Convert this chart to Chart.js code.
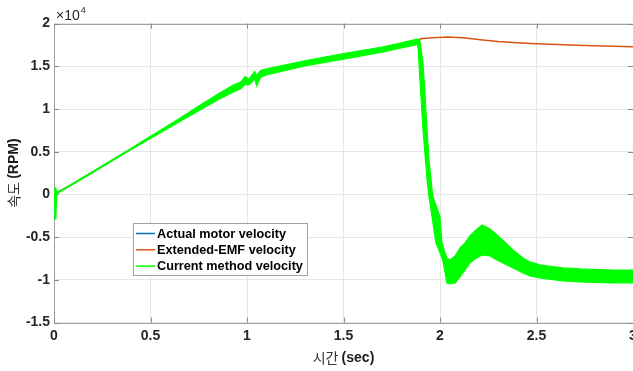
<!DOCTYPE html>
<html><head><meta charset="utf-8">
<script src="https://cdn.jsdelivr.net/npm/chart.js@4/dist/chart.umd.min.js"></script>
<style>html,body{margin:0;padding:0;background:#fff;overflow:hidden}</style>
</head><body>
<canvas id="c" width="633" height="371"></canvas>
<script>
// ---- data ----
const xTicks = [0, 0.5, 1, 1.5, 2, 2.5, 3];
const xTickLabels = ['0', '0.5', '1', '1.5', '2', '2.5', '3'];
const yTicks = [-15000, -10000, -5000, 0, 5000, 10000, 15000, 20000];
const yTickLabels = ['-1.5', '-1', '-0.5', '0', '0.5', '1', '1.5', '2'];
const seriesLabels = ['Actual motor velocity', 'Extended-EMF velocity', 'Current method velocity'];
const xTitle = ['시간 ', '(sec)'];
const yTitle = ['속도 ', '(RPM)'];
const exponentText = ['×10', '4'];

const timeBlue = [0, 0.08, 0.39, 0.75, 1.0, 1.1, 1.5, 1.886, 1.912, 1.943, 1.979, 2.016, 2.052, 2.1, 2.22, 2.33, 2.5, 2.7, 3.0];
const blueVel  = [0, 1000, 5200, 10050, 13200, 14350, 16200, 17900, 11500, 1900, -3400, -7000, -9000, -8000, -5400, -6500, -9000, -9400, -9600];

const timeOrange = [0, 0.08, 0.39, 0.75, 1.0, 1.1, 1.5, 1.886, 1.9, 1.96, 2.04, 2.12, 2.21, 2.3, 2.4, 2.5, 2.75, 3.0];
const orangeVel  = [0, 1000, 5200, 10050, 13200, 14350, 16200, 17900, 18220, 18350, 18430, 18330, 18100, 17900, 17750, 17650, 17450, 17300];

const timeGreen = [0, 0.004, 0.009, 0.014, 0.03, 0.08, 0.2, 0.39, 0.5, 0.65, 0.75, 0.85, 0.93, 0.97, 0.99, 1.01, 1.04, 1.05, 1.07, 1.1, 1.3, 1.5, 1.7, 1.8,
  1.886, 1.891, 1.896, 1.912, 1.933, 1.943, 1.959, 1.964, 1.979, 2.0, 2.01, 2.016, 2.036,
  2.052, 2.078, 2.104, 2.130, 2.155, 2.181, 2.218, 2.259, 2.295, 2.347, 2.378, 2.430, 2.466, 2.518, 2.554, 2.637, 2.725, 2.896, 3.0];
const greenUpper = [0, 800, 700, 300, 400, 1050, 2650, 5250, 6800, 8900, 10350, 11750, 12800, 13200, 13800, 13500, 14400, 13900, 14500, 14700, 15650, 16500, 17250, 17750,
  18200, 18100, 18000, 15420, 7570, 4060, 540, -280, -1220, -2620, -5680, -6140, -7430,
  -7660, -7200, -6260, -5670, -4850, -4260, -3560, -4030, -4730, -5790, -6490, -7430, -7900, -8250, -8370, -8600, -8720, -8840, -8840];
const greenLower = [0, -2900, -2800, 0, 300, 950, 2550, 5150, 6550, 8500, 9800, 11100, 12000, 12400, 12900, 12800, 13500, 12700, 13700, 14000, 15050, 15850, 16650, 17150,
  17550, 15420, 13430, 7570, 1710, -280, -2620, -3440, -5680, -6840, -7430, -7900, -10360,
  -10480, -10360, -9650, -8840, -8020, -7550, -7080, -7200, -7660, -8250, -8600, -9190, -9540, -9770, -9890, -10120, -10240, -10360, -10360];

// ---- styles ----
const FONT = "'Liberation Sans', Arial, 'Noto Sans CJK KR', sans-serif";
const KFONT = "'Noto Sans CJK KR', 'Liberation Sans', sans-serif";
const BLUE = '#0072BD', ORANGE = '#D95319', GREEN = '#00FF00';
const pts = (xs, ys) => xs.map((x, i) => ({x, y: ys[i]}));

const framePlugin = {
  id: 'frame',
  beforeDatasetsDraw(chart) {
    const {ctx, chartArea: a, scales: {x, y}} = chart;
    ctx.save();
    ctx.strokeStyle = '#a0a0a0';
    ctx.lineWidth = 1;
    ctx.beginPath();
    ctx.rect(Math.round(a.left) + 0.5, Math.round(a.top) + 0.5, a.right - a.left, a.bottom - a.top);
    ctx.stroke();
    ctx.strokeStyle = '#8a8a8a';
    ctx.beginPath();
    const L = 5;
    xTicks.forEach(v => {
      const px = Math.round(x.getPixelForValue(v)) + 0.5;
      ctx.moveTo(px, a.top); ctx.lineTo(px, a.top + L);
      ctx.moveTo(px, a.bottom); ctx.lineTo(px, a.bottom - L);
    });
    yTicks.forEach(v => {
      const py = Math.round(y.getPixelForValue(v)) + 0.5;
      ctx.moveTo(a.left, py); ctx.lineTo(a.left + L, py);
      ctx.moveTo(a.right, py); ctx.lineTo(a.right - L, py);
    });
    ctx.stroke();
    ctx.restore();
  }
};

const legendPlugin = {
  id: 'boxLegend',
  afterDraw(chart) {
    const {ctx} = chart;
    const bx = 133.5, by = 223.5, bw = 174, bh = 52;
    ctx.save();
    ctx.fillStyle = '#fff';
    ctx.fillRect(bx, by, bw, bh);
    ctx.strokeStyle = '#a0a0a0';
    ctx.lineWidth = 1;
    ctx.strokeRect(bx, by, bw, bh);
    const items = chart.data.datasets.filter(d => seriesLabels.includes(d.label))
      .sort((a, b) => seriesLabels.indexOf(a.label) - seriesLabels.indexOf(b.label));
    ctx.font = 'bold 12.7px ' + FONT;
    ctx.textBaseline = 'middle';
    ctx.textAlign = 'left';
    items.forEach((d, i) => {
      const yy = 233.5 + i * 16.3;
      ctx.strokeStyle = d.legendColor || d.borderColor;
      ctx.lineWidth = 1.5;
      ctx.beginPath(); ctx.moveTo(136, yy); ctx.lineTo(155, yy); ctx.stroke();
      ctx.fillStyle = '#000';
      ctx.fillText(d.label, 157, yy + 0.5);
    });
    ctx.restore();
  }
};

function mixedWidth(ctx, parts) {
  ctx.font = 'normal 14px ' + KFONT; const w1 = ctx.measureText(parts[0]).width;
  ctx.font = 'bold 14px ' + FONT; const w2 = ctx.measureText(parts[1]).width;
  return [w1, w2];
}
const titlePlugin = {
  id: 'axisTitles',
  afterDraw(chart) {
    const {ctx, chartArea: a} = chart;
    ctx.save();
    ctx.textBaseline = 'middle';
    ctx.textAlign = 'left';
    let [w1, w2] = mixedWidth(ctx, xTitle);
    let cx = (a.left + a.right) / 2 - (w1 + w2) / 2, cy = 358;
    ctx.fillStyle = '#333';
    ctx.font = 'normal 14px ' + KFONT; ctx.fillText(xTitle[0], cx, cy);
    ctx.fillStyle = '#1a1a1a';
    ctx.font = 'bold 14px ' + FONT; ctx.fillText(xTitle[1], cx + w1, cy);
    [w1, w2] = mixedWidth(ctx, yTitle);
    ctx.translate(14, (a.top + a.bottom) / 2);
    ctx.rotate(-Math.PI / 2);
    const sx = -(w1 + w2) / 2;
    ctx.fillStyle = '#333';
    ctx.font = 'normal 14px ' + KFONT; ctx.fillText(yTitle[0], sx, 0);
    ctx.fillStyle = '#1a1a1a';
    ctx.font = 'bold 14px ' + FONT; ctx.fillText(yTitle[1], sx + w1, 0);
    ctx.restore();
    ctx.save();
    ctx.fillStyle = '#262626';
    ctx.textBaseline = 'alphabetic';
    ctx.font = 'normal 14px ' + FONT;
    ctx.fillText(exponentText[0], 56, 19.5);
    const ew = ctx.measureText(exponentText[0]).width;
    ctx.font = 'normal 9px ' + FONT;
    ctx.fillText(exponentText[1], 56 + ew + 1, 13);
    ctx.restore();
  }
};

new Chart(document.getElementById('c'), {
  type: 'line',
  data: {
    datasets: [
      {label: seriesLabels[2], data: pts(timeGreen, greenUpper), borderColor: GREEN, backgroundColor: GREEN,
       borderWidth: 1.2, fill: '+1', order: 0, legendColor: GREEN},
      {label: '', data: pts(timeGreen, greenLower), borderColor: GREEN, borderWidth: 1.2, fill: false, order: 0},
      {label: seriesLabels[1], data: pts(timeOrange, orangeVel), borderColor: ORANGE, borderWidth: 1.5, fill: false, order: 1},
      {label: seriesLabels[0], data: pts(timeBlue, blueVel), borderColor: BLUE, borderWidth: 1.5, fill: false, order: 2}
    ]
  },
  options: {
    responsive: false,
    devicePixelRatio: 1,
    animation: false,
    layout: {padding: {top: 23.6, left: 0, right: 0, bottom: 0}},
    elements: {point: {radius: 0}, line: {tension: 0}},
    plugins: {legend: {display: false}, tooltip: {enabled: false}, title: {display: false}},
    scales: {
      x: {
        type: 'linear', min: 0, max: 3,
        afterBuildTicks: s => { s.ticks = xTicks.map(v => ({value: v})); },
        afterFit: s => { s.height = 48.4; s.paddingLeft = 0; s.paddingRight = 0; },
        ticks: {callback: (v) => xTickLabels[xTicks.indexOf(v)], font: {family: FONT, size: 14, weight: 'bold'},
                color: '#262626', padding: 5, maxRotation: 0, autoSkip: false},
        grid: {color: '#e6e6e6', drawTicks: false, lineWidth: 1},
        border: {display: false}
      },
      y: {
        type: 'linear', min: -15000, max: 20000,
        afterBuildTicks: s => { s.ticks = yTicks.map(v => ({value: v})); },
        afterFit: s => { s.width = 54; s.paddingTop = 0; s.paddingBottom = 0; },
        ticks: {callback: (v) => yTickLabels[yTicks.indexOf(v)], font: {family: FONT, size: 14, weight: 'bold'},
                color: '#262626', padding: 4, autoSkip: false},
        grid: {color: '#e6e6e6', drawTicks: false, lineWidth: 1},
        border: {display: false}
      }
    }
  },
  plugins: [framePlugin, titlePlugin, legendPlugin]
});
</script>
</body></html>
